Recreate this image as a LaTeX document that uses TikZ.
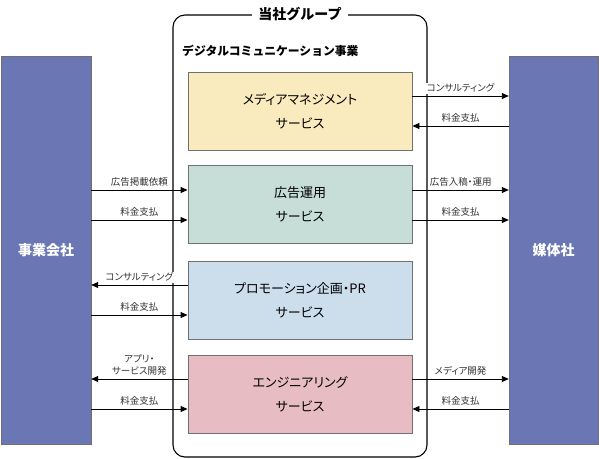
\documentclass[tikz,border=0pt]{standalone}
\usepackage{fontspec}
\setmainfont{Noto Sans CJK JP}
\newfontfamily\jpp{Noto Sans CJK JP}[RawFeature=+palt]
\usetikzlibrary{arrows.meta,calc}
\definecolor{corpblue}{HTML}{6A77B4}
\definecolor{svyellow}{HTML}{FAEBBE}
\definecolor{svteal}{HTML}{C6DDD8}
\definecolor{svblue}{HTML}{CCDDEC}
\definecolor{svpink}{HTML}{E7BDC3}
\definecolor{edge}{HTML}{707070}
\tikzset{
  corp/.style={draw=edge, fill=corpblue, minimum width=90pt, minimum height=388pt, inner sep=0pt, text=white, font=\fontsize{14}{16}\selectfont\bfseries},
  svc/.style={draw=edge, line width=0.9pt, minimum width=224pt, minimum height=78pt, inner sep=0pt, align=center, font=\jpp\fontsize{13}{24}\selectfont},
  arr/.style={line width=0.9pt, -{Triangle[length=7pt,width=6pt]}},
  lbl/.style={font=\jpp\fontsize{9.5}{12}\selectfont, text=black!80, fill=white, inner sep=1pt, anchor=south, yshift=2pt, align=center},
}
\begin{document}
\begin{tikzpicture}[x=1pt,y=-1pt]
\useasboundingbox (0,0) rectangle (599,458);
% group box
\node[draw, line width=1.1pt, rounded corners=12pt, minimum width=254pt, minimum height=442pt, inner sep=0pt] (grp) at (300,236) {};
\node[fill=white, inner xsep=6pt, inner ysep=1pt, font=\fontsize{14}{16}\selectfont\bfseries] (gtitle) at (grp.north) {当社グループ};
\node[anchor=west, inner sep=0pt, font=\fontsize{11.8}{14}\selectfont\bfseries] (biz) at (182,51) {デジタルコミュニケーション事業};
% side companies
\node[corp] (client) at (46,250) {事業会社};
\node[corp, minimum width=89pt] (media) at (553.5,250) {媒体社};
% services
\node[svc, fill=svyellow] (s1) at (300,111) {メディアマネジメント\\サービス};
\node[svc, fill=svteal] (s2) at (300,204.5) {広告運用\\サービス};
\node[svc, fill=svblue] (s3) at (300,300) {プロモーション企画・PR\\サービス};
\node[svc, fill=svpink] (s4) at (300,394.5) {エンジニアリング\\サービス};
% rows
\coordinate (r1a) at (0,96);
\coordinate (r1b) at (0,126);
\coordinate (r2a) at (0,190);
\coordinate (r2b) at (0,220);
\coordinate (r3a) at (0,285);
\coordinate (r3b) at (0,315);
\coordinate (r4a) at (0,379);
\coordinate (r4b) at (0,409);
% right side
\draw[arr] (s1.east |- r1a) -- node[lbl] {コンサルティング} (media.west |- r1a);
\draw[arr] (media.west |- r1b) -- node[lbl] {料金支払} (s1.east |- r1b);
\draw[arr] (s2.east |- r2a) -- node[lbl] {広告入稿・運用} (media.west |- r2a);
\draw[arr] (s2.east |- r2b) -- node[lbl] {料金支払} (media.west |- r2b);
\draw[arr] (s4.east |- r4a) -- node[lbl] {メディア開発} (media.west |- r4a);
\draw[arr] (media.west |- r4b) -- node[lbl] {料金支払} (s4.east |- r4b);
% left side
\draw[arr] (client.east |- r2a) -- node[lbl] {広告掲載依頼} (s2.west |- r2a);
\draw[arr] (client.east |- r2b) -- node[lbl] {料金支払} (s2.west |- r2b);
\draw[arr] (s3.west |- r3a) -- node[lbl] {コンサルティング} (client.east |- r3a);
\draw[arr] (client.east |- r3b) -- node[lbl] {料金支払} (s3.west |- r3b);
\draw[arr] (s4.west |- r4a) -- node[lbl] {アプリ・\\サービス開発} (client.east |- r4a);
\draw[arr] (client.east |- r4b) -- node[lbl] {料金支払} (s4.west |- r4b);
\end{tikzpicture}
\end{document}
